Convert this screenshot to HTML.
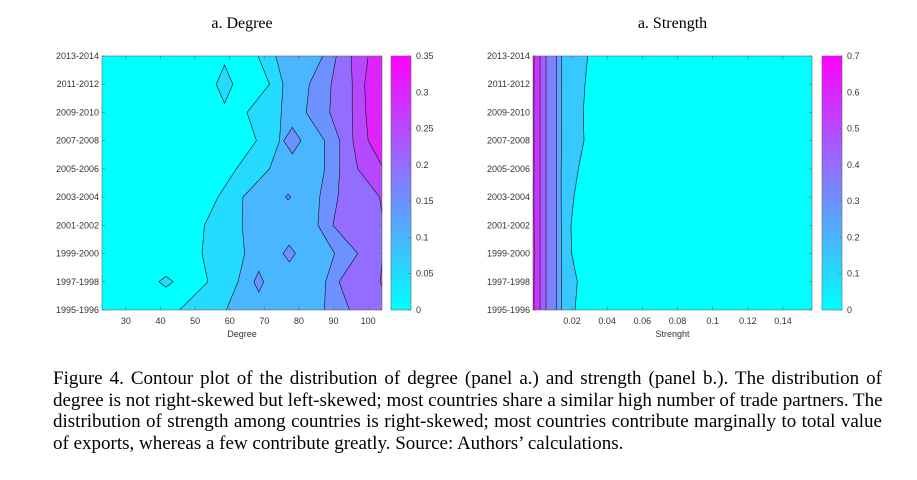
<!DOCTYPE html>
<html><head><meta charset="utf-8"><style>
body{margin:0;background:#fff;width:917px;height:480px;overflow:hidden}
svg text{font-family:"Liberation Sans",sans-serif;font-size:9px;fill:#333}
.t{font-family:"Liberation Serif",serif;font-size:16px;fill:#000}
#cap{position:absolute;left:53px;top:368px;width:829px;font-family:"Liberation Serif",serif;font-size:19px;line-height:21.7px;color:#000}
#cap div{text-align:justify;text-align-last:justify;white-space:nowrap}
#cap div.last{text-align-last:left}
</style></head><body>
<svg id="s" width="917" height="480" style="position:absolute;left:0;top:0"></svg>
<div id="cap">
<div>Figure 4. Contour plot of the distribution of degree (panel a.) and strength (panel b.). The distribution of</div>
<div>degree is not right-skewed but left-skewed; most countries share a similar high number of trade partners. The</div>
<div>distribution of strength among countries is right-skewed; most countries contribute marginally to total value</div>
<div class="last">of exports, whereas a few contribute greatly. Source: Authors’ calculations.</div>
</div>
<script>
const years=["1995-1996","1997-1998","1999-2000","2001-2002","2003-2004","2005-2006","2007-2008","2009-2010","2011-2012","2013-2014"];
// Degree panel: contour boundary x-positions per year row for levels 0.05..0.3
const degLevels=[0.05,0.1,0.15,0.2,0.25,0.3];
const degB1=[45.5,53.7,52,52.7,56.6,61.9,67.7,65,71.5,68.2];
const degB2=[59,62.4,64.3,63.6,63.8,71.5,74.4,74.9,75.4,73.3];
const degB3=[87.4,87.7,90.3,85.5,86,87.4,87.4,82.1,83,86.9];
const degB4=[94.6,91.6,97,89.8,91.3,91.8,91.8,88.9,89.3,90.8];
const degB5=[106,103.5,104.2,104.5,103.3,97,95.6,95.4,95.4,95.1];
const degB6=[108,108,108,108,108,104.5,100,99.3,99,100];
const degXTicks=[30,40,50,60,70,80,90,100];
// islands: center x, center row, half-width, half-height(rows), level
const isX=[58.5,41.6,78.1,76.9,77.2,68.4];
const isRow=[8,1,6,4,2,1];
const isW=[2.4,2.1,2.5,0.75,1.8,1.4];
const isH=[0.68,0.19,0.47,0.1,0.3,0.37];
const isLev=[0.05,0.05,0.15,0.15,0.15,0.15];
// Strength panel (higher values on the left)
const strLevels=[0.1,0.2,0.3,0.4,0.5,0.6];
const strB1=[0.0217,0.023,0.0198,0.0194,0.0211,0.0236,0.0268,0.0264,0.0274,0.0289];
const strB2=[0.0141,0.0141,0.0139,0.0139,0.0138,0.0138,0.0141,0.0139,0.014,0.0141];
const strB3=[0.0113,0.0113,0.0112,0.0112,0.0112,0.0112,0.0112,0.0112,0.0113,0.0113];
const strB4=[0.0052,0.0052,0.0052,0.0052,0.0052,0.0052,0.0052,0.0052,0.0052,0.0052];
const strB5=[0.0018,0.0018,0.0018,0.0018,0.0018,0.0018,0.0018,0.0018,0.0018,0.0018];
const strB6=[-0.0016,-0.0016,-0.0015,-0.0016,-0.0017,-0.0016,-0.0016,-0.0017,-0.0016,-0.0016];
const strXTicks=[0.02,0.04,0.06,0.08,0.1,0.12,0.14];
const degCbTicks=[0,0.05,0.1,0.15,0.2,0.25,0.3,0.35];
const strCbTicks=[0,0.1,0.2,0.3,0.4,0.5,0.6,0.7];

const NS="http://www.w3.org/2000/svg",S=document.getElementById('s');
function mk(t,a,p){const e=document.createElementNS(NS,t);for(const k in a)e.setAttribute(k,a[k]);(p||S).appendChild(e);return e;}
function cool(t){t=Math.max(0,Math.min(1,t));return `rgb(${Math.round(255*t)},${Math.round(255*(1-t))},255)`;}

function panel(o){
  const {x0,x1,y0,y1,xmin,xmax,vmax}=o;
  const X=v=>x0+(v-xmin)/(xmax-xmin)*(x1-x0);
  const Y=i=>y1-i*(y1-y0)/(years.length-1);
  const edge=o.left?x0-40:x1+40;
  const g=mk('g',{});
  
  
  const cid='c'+o.name;
  const cp=mk('clipPath',{id:cid},g);mk('rect',{x:x0,y:y0,width:x1-x0,height:y1-y0},cp);
  const pg=mk('g',{'clip-path':`url(#${cid})`},g);
  mk('rect',{x:x0,y:y0,width:x1-x0,height:y1-y0,fill:cool(0)},pg);
  o.bounds.forEach((b,k)=>{
    let pts=[[edge,Y(0)+5]];
    pts.push([X(b[0]),Y(0)+5]);
    b.forEach((v,i)=>pts.push([X(v),Y(i)]));
    pts.push([X(b[b.length-1]),Y(years.length-1)-5]);
    pts.push([edge,Y(years.length-1)-5]);
    const p=mk('polygon',{points:pts.map(q=>q.join(',')).join(' '),fill:cool((o.levels[k]+o.shift)/vmax),stroke:'none'},pg);
    
    
    mk('polyline',{points:pts.slice(1,-1).map(q=>q.join(',')).join(' '),fill:'none',stroke:'#111',
      'stroke-width':0.6},pg);
  });
  if(o.islands){
    const r=(y1-y0)/(years.length-1);
    o.islands.x.forEach((cx,i)=>{
      const X0=X(cx),Y0=Y(o.islands.row[i]),w=X(cx+o.islands.w[i])-X0,h=o.islands.h[i]*r;
      const d=mk('polygon',{points:`${X0-w},${Y0} ${X0},${Y0-h} ${X0+w},${Y0} ${X0},${Y0+h}`,fill:cool((o.islands.lev[i]+o.shift)/vmax),stroke:'#111','stroke-width':0.6},pg);
      
      
    });
  }
  mk('rect',{x:x0,y:y0,width:x1-x0,height:y1-y0,fill:'none',stroke:'#666','stroke-width':0.6},g);
  years.forEach((yl,i)=>{
    mk('line',{x1:x0,x2:x0+3,y1:Y(i),y2:Y(i),stroke:'#666','stroke-width':0.6},g);
    mk('line',{x1:x1,x2:x1-3,y1:Y(i),y2:Y(i),stroke:'#666','stroke-width':0.6},g);
    const t=mk('text',{x:x0-3,y:Y(i)+3,'text-anchor':'end'},g);t.textContent=yl;
    
    
  });
  o.xt.forEach(v=>{
    mk('line',{x1:X(v),x2:X(v),y1:y1,y2:y1-3,stroke:'#666','stroke-width':0.6},g);
    mk('line',{x1:X(v),x2:X(v),y1:y0,y2:y0+3,stroke:'#666','stroke-width':0.6},g);
    const t=mk('text',{x:X(v),y:y1+14,'text-anchor':'middle'},g);t.textContent=String(v);
    
    
  });
  const xl=mk('text',{x:(x0+x1)/2,y:y1+27,'text-anchor':'middle','font-size':'10px'},g);xl.textContent=o.xlabel;
  
  
  const tt=mk('text',{x:(x0+x1)/2,y:28,'text-anchor':'middle',class:'t'},g);tt.textContent=o.title;
  
  
  const gid='g'+o.name;const lg=mk('linearGradient',{id:gid,x1:0,y1:1,x2:0,y2:0},g);
  mk('stop',{offset:0,'stop-color':cool(0)},lg);mk('stop',{offset:1,'stop-color':cool(1)},lg);
  const cb=mk('rect',{x:o.cbx,y:y0,width:20,height:y1-y0,fill:`url(#${gid})`,stroke:'#666','stroke-width':0.6},g);
  
  
  o.cbt.forEach(v=>{
    const yy=y1-v/vmax*(y1-y0);
    mk('line',{x1:o.cbx+20,x2:o.cbx+17,y1:yy,y2:yy,stroke:'#666','stroke-width':0.6},g);
    const t=mk('text',{x:o.cbx+25,y:yy+3,'font-size':'8px'},g);t.textContent=String(v);
    
    
  });
}
panel({name:'degree-panel',x0:102,x1:382,y0:56,y1:310,xmin:23.1,xmax:104,vmax:0.35,levels:degLevels,shift:0,
  bounds:[degB1,degB2,degB3,degB4,degB5,degB6],xt:degXTicks,xlabel:'Degree',title:'a. Degree',cbx:391,cbt:degCbTicks,
  islands:{x:isX,row:isRow,w:isW,h:isH,lev:isLev}});
panel({name:'strength-panel',x0:533,x1:812,y0:56,y1:310,xmin:-0.0022,xmax:0.1565,vmax:0.7,levels:strLevels,shift:0.05,left:true,
  bounds:[strB1,strB2,strB3,strB4,strB5,strB6],xt:strXTicks,xlabel:'Strenght',title:'a. Strength',cbx:822,cbt:strCbTicks});
</script>
</body></html>
